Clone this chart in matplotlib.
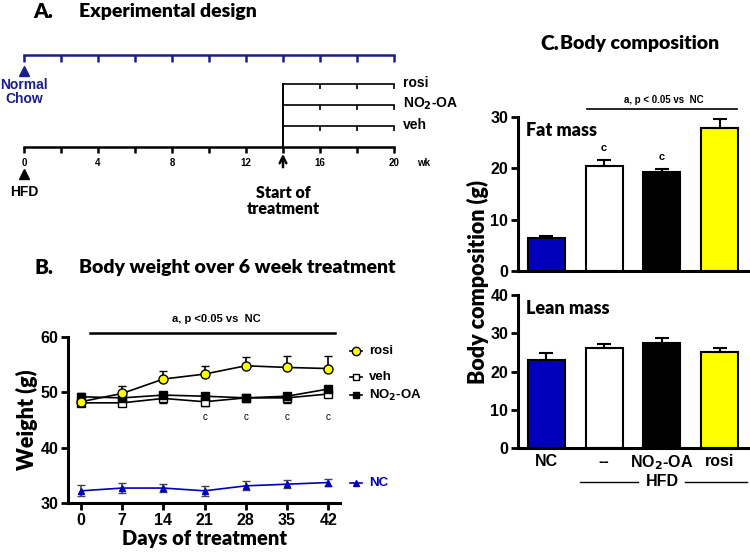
import numpy as np
import matplotlib.pyplot as plt

W, H = 750, 552

def box(x0, y0, x1, y1):
    # pixel box (origin top-left) -> figure rect
    return [x0 / W, 1 - y1 / H, (x1 - x0) / W, (y1 - y0) / H]

#%% Data
# A. experimental design (weeks)
diet_weeks = np.arange(0, 21, 2)
label_weeks = [0, 4, 8, 12, 16, 20]
treat_start = 14
treat_end = 20
treat_weeks = [16, 18]
treat_groups = ['rosi', 'NO$_\\mathbf{2}$-OA', 'veh']

# B. body weight (g)
days = [0, 7, 14, 21, 28, 35, 42]
rosi_w = [48.3, 49.8, 52.4, 53.3, 54.8, 54.5, 54.3]
rosi_e = [0.9, 1.4, 1.5, 1.5, 1.5, 2.1, 2.2]
veh_w = [48.1, 48.1, 48.9, 48.3, 49.0, 49.0, 49.7]
veh_e = [0.5, 0.5, 0.8, 0.8, 0.6, 0.9, 0.6]
no2_w = [49.2, 49.0, 49.5, 49.3, 49.0, 49.3, 50.6]
no2_e = [0.7, 0.4, 0.4, 0.4, 0.4, 0.4, 0.4]
nc_w = [32.2, 32.7, 32.7, 32.2, 33.1, 33.4, 33.7]
nc_e = [1.0, 0.9, 0.8, 0.9, 0.8, 0.7, 0.7]
c_days = [21, 28, 35, 42]

# C. body composition (g)
groups = ['NC', '--', 'NO$_\\mathbf{2}$-OA', 'rosi']
bar_colors = ['#0000bb', 'white', 'black', '#ffff00']
fat = [6.4, 20.5, 19.2, 27.9]
fat_e = [0.5, 1.2, 0.7, 1.7]
lean = [23.0, 26.2, 27.5, 25.1]
lean_e = [1.9, 1.1, 1.2, 1.0]
fat_c = [1, 2]

BLUE = '#0000bb'
NAVY = '#1c1c8c'
TF = 'Lato'               # title-ish font
TW = 'heavy'
NF = 'Liberation Sans'    # numbers / labels

fig = plt.figure(figsize=(7.5, 5.52), dpi=100)

# overlay in pixel coords for free text
ov = fig.add_axes([0, 0, 1, 1])
ov.set_xlim(0, W)
ov.set_ylim(H, 0)
ov.axis('off')

#%% A. Experimental design
ax_a = fig.add_axes(box(0, 0, 460, 220))
px0, pxw = 24, 18.5
ax_a.set_xlim(-px0 / pxw, (460 - px0) / pxw)
ax_a.set_ylim(220, 0)
ax_a.axis('off')

y_nc, y_hfd = 55, 147
ax_a.plot([0, 20], [y_nc, y_nc], color=NAVY, lw=1.8)
ax_a.vlines(diet_weeks, y_nc, y_nc + 7, color=NAVY, lw=1.8)
ax_a.plot([0, 20], [y_hfd, y_hfd], color='black', lw=1.8)
ax_a.vlines(diet_weeks, y_hfd, y_hfd + 6, color='black', lw=1.8)
for w in label_weeks:
    ax_a.text(w, 163, str(w), ha='center', va='center', fontsize=7,
              fontweight='bold', family=NF)
ax_a.text(21.6, 163, 'wk', ha='center', va='center', fontsize=7,
          fontweight='bold', family=NF)

branch_y = [84, 105, 126]
ax_a.plot([treat_start, treat_start], [branch_y[0], y_hfd], color='black', lw=1.4)
for y, g in zip(branch_y, treat_groups):
    ax_a.plot([treat_start, treat_end], [y, y], color='black', lw=1.2)
    ax_a.vlines(treat_weeks + [treat_end], y, y + 5, color='black', lw=1.2)
    ax_a.text(20.5, y - 1, g, ha='left', va='center', fontsize=10,
              fontweight='bold', family=NF)

ax_a.plot(0, 71, '^', color=NAVY, ms=7)
ax_a.text(0, 92, 'Normal\nChow', ha='center', va='center', fontsize=10,
          fontweight='bold', family=NF, color=NAVY, linespacing=1.0)
ax_a.plot(0, 174, '^', color='black', ms=7)
ax_a.text(0, 192, 'HFD', ha='center', va='center', fontsize=10,
          fontweight='bold', family=NF)
ax_a.annotate('', xy=(treat_start, 151), xytext=(treat_start, 170),
              arrowprops=dict(arrowstyle='->', lw=1.8, color='black',
                              mutation_scale=12))
ax_a.text(treat_start, 201, 'Start of\ntreatment', ha='center', va='center',
          fontsize=11.5, fontweight=TW, family=TF, linespacing=1.0)

ov.text(33, 12, 'A.', fontsize=15, fontweight=TW, family=TF, va='center')
ov.text(79, 12, 'Experimental design', fontsize=14, fontweight=TW,
        family=TF, va='center')

#%% B. Body weight
ax_b = fig.add_axes(box(68, 337, 340, 503))
ax_b.set_xlim(-2.2, 44)
ax_b.set_ylim(30, 60)
for s in ['top', 'right']:
    ax_b.spines[s].set_visible(False)
for s in ['left', 'bottom']:
    ax_b.spines[s].set_linewidth(2.2)
ax_b.set_xticks(days)
ax_b.set_yticks([30, 40, 50, 60])
ax_b.tick_params(width=2, length=5, labelsize=11.5, pad=2)
for lb in ax_b.get_xticklabels() + ax_b.get_yticklabels():
    lb.set_fontweight('bold')
    lb.set_family(NF)

z = np.zeros(len(days))
ax_b.errorbar(days, nc_w, yerr=nc_e, color=BLUE, ecolor='#444444', lw=1.2,
              marker='^', ms=5, mfc=BLUE, mec=BLUE, capsize=3, elinewidth=1.2,
              clip_on=False)
ax_b.errorbar(days, rosi_w, yerr=[z, rosi_e], color='black', lw=1.2,
              marker='o', ms=6.5, mfc='#ffff00', mec='black', capsize=3,
              elinewidth=1.2, zorder=4)
ax_b.errorbar(days, veh_w, yerr=[veh_e, z], color='black', lw=1.2,
              marker='s', ms=5.5, mfc='white', mec='black', capsize=3,
              elinewidth=1.2, zorder=3)
ax_b.errorbar(days, no2_w, yerr=[z, no2_e], color='black', lw=1.2,
              marker='s', ms=5.5, mfc='black', mec='black', capsize=3,
              elinewidth=1.2, zorder=3)
for d in c_days:
    ax_b.text(d, 45.6, 'c', ha='center', va='center', fontsize=7, family=NF)

ax_b.plot([1.5, 43.2], [60.7, 60.7], color='black', lw=1.8, clip_on=False)
ax_b.text(23, 63.3, 'a, p <0.05 vs  NC', ha='center', va='center',
          fontsize=8, fontweight='bold', family=NF)
ax_b.set_xlabel('Days of treatment', fontsize=14.5, fontweight=TW,
                family=TF, labelpad=1)
ax_b.set_ylabel('Weight (g)', fontsize=15.5, fontweight=TW, family=TF,
                labelpad=2)

# legend
leg = [(351, 'rosi', 'o', '#ffff00', 'black', 'black'),
       (377, 'veh', 's', 'white', 'black', 'black'),
       (395, 'NO$_\\mathbf{2}$-OA', 's', 'black', 'black', 'black'),
       (483, 'NC', '^', BLUE, BLUE, BLUE)]
for y, lab, m, fc, ec, col in leg:
    ov.plot([350, 362], [y, y], color=col, lw=1.2)
    ov.plot(356, y, m, mfc=fc, mec=ec, ms=5 if m != 'o' else 6)
    ov.text(369, y, lab, ha='left', va='center', fontsize=9.5,
            fontweight='bold', family=NF, color=col)

ov.text(35, 268, 'B.', fontsize=15, fontweight=TW, family=TF, va='center')
ov.text(79, 268, 'Body weight over 6 week treatment', fontsize=14,
        fontweight=TW, family=TF, va='center')

#%% C. Body composition
x = np.arange(len(groups))

def style_bar_axes(ax, top, step):
    ax.set_xlim(-0.49, 3.51)
    ax.set_ylim(0, top)
    ax.set_yticks(np.arange(0, top + 1, step))
    for s in ['top', 'right']:
        ax.spines[s].set_visible(False)
    for s in ['left', 'bottom']:
        ax.spines[s].set_linewidth(2.2)
    ax.tick_params(axis='y', width=2, length=5, labelsize=11.5, pad=2)
    ax.tick_params(axis='x', length=0)
    for lb in ax.get_yticklabels():
        lb.set_fontweight('bold')
        lb.set_family(NF)

ax_fat = fig.add_axes(box(518, 117, 749, 271))
ax_fat.bar(x, fat, width=0.64, color=bar_colors, edgecolor='black', lw=1.5,
           yerr=[np.zeros(4), fat_e], capsize=5,
           error_kw=dict(elinewidth=1.5, capthick=1.5))
style_bar_axes(ax_fat, 30, 10)
ax_fat.set_xticks([])
for i in fat_c:
    ax_fat.text(x[i], fat[i] + fat_e[i] + 2.3, 'c', ha='center', va='center',
                fontsize=8, fontweight='bold', family=NF)
ax_fat.plot([0.70, 3.30], [31.6, 31.6], color='black', lw=1.2, clip_on=False)
ax_fat.text(2.03, 33.4, 'a, p < 0.05 vs  NC', ha='center', va='center',
            fontsize=7, fontweight='bold', family=NF)
ax_fat.text(0.035, 0.915, 'Fat mass', transform=ax_fat.transAxes,
            ha='left', va='center', fontsize=13, fontweight=TW, family=TF)

ax_lean = fig.add_axes(box(518, 295, 749, 448))
ax_lean.bar(x, lean, width=0.64, color=bar_colors, edgecolor='black', lw=1.5,
            yerr=[np.zeros(4), lean_e], capsize=5,
            error_kw=dict(elinewidth=1.5, capthick=1.5))
style_bar_axes(ax_lean, 40, 10)
ax_lean.set_xticks(x)
ax_lean.set_xticklabels(groups, fontsize=11.5, fontweight='bold', family=NF)
ax_lean.tick_params(axis='x', pad=4)
ax_lean.text(0.035, 0.915, 'Lean mass', transform=ax_lean.transAxes,
             ha='left', va='center', fontsize=13, fontweight=TW, family=TF)

ov.plot([580, 638], [482, 482], color='black', lw=1)
ov.plot([685, 747], [482, 482], color='black', lw=1)
ov.text(662, 482, 'HFD', ha='center', va='center', fontsize=11.5,
        fontweight='bold', family=NF)
ov.text(478, 282, 'Body composition (g)', rotation=90, ha='center',
        va='center', fontsize=15.5, fontweight=TW, family=TF)

ov.text(540, 43, 'C.', fontsize=15, fontweight=TW, family=TF, va='center')
ov.text(560, 43, 'Body composition', fontsize=14, fontweight=TW,
        family=TF, va='center')

fig.savefig('out.png', dpi=100)
